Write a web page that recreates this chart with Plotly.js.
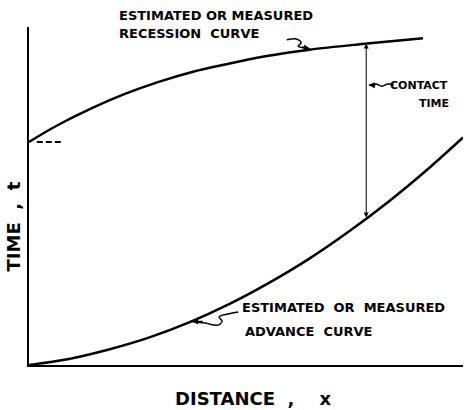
<!DOCTYPE html>
<html>
<head>
<meta charset="utf-8">
<script src="https://cdn.plot.ly/plotly-3.0.1.min.js"></script>
<style>html,body{margin:0;padding:0;background:#fff;}#chart{width:466px;height:410px;}</style>
</head>
<body>
<div id="chart"></div>
<script>
// Curve values (distance x, time t), arbitrary units 0-100
var recessionX = [0, 6.68, 14.5, 22.1, 29.7, 37.6, 45.2, 54.8, 64.7, 77.9, 90.8];
var recessionT = [66.0, 71.0, 76.0, 80.2, 83.7, 86.7, 88.9, 91.4, 93.3, 95.1, 96.7];
var advanceX = [0, 9.2, 18.4, 27.6, 36.9, 46.1, 55.3, 64.5, 73.7, 82.9, 92.2, 100];
var advanceT = [0, 1.8, 4.6, 8.1, 12.6, 18.0, 24.3, 31.4, 39.5, 48.4, 58.3, 67.3];

// dashed start marker on the time axis
var startDashX = [1.8, 7.8];
var startDashT = [66.0, 66.0];

// contact time at this distance
var contactX = 77.7;
var contactTop = 95.1;
var contactBottom = 43.2;

// leader squiggles
var recLeaderX = [59.4, 61.8, 62.7, 62.0, 64.7];
var recLeaderT = [96.2, 96.4, 95.3, 94.4, 93.6];
var ctLeaderX = [78.3, 79.95, 81.3, 82.7, 84.1];
var ctLeaderT = [82.8, 83.1, 82.5, 83.1, 82.8];
var advLeaderX = [37.6, 40.6, 43.5, 44.5, 43.8, 45.9, 48.2];
var advLeaderT = [12.9, 12.4, 11.8, 13.0, 14.2, 15.1, 15.7];

var labelFont = {family: 'DejaVu Sans', size: 13, color: '#000', weight: 'bold'};
var smallFont = {family: 'DejaVu Sans', size: 11, color: '#000', weight: 'bold'};
var titleFont = {family: 'DejaVu Sans', size: 18, color: '#000', weight: 'bold'};

var traces = [
  {x: recessionX, y: recessionT, mode: 'lines', line: {color: '#000', width: 2.5, shape: 'spline'}, hoverinfo: 'skip'},
  {x: advanceX, y: advanceT, mode: 'lines', line: {color: '#000', width: 2.5, shape: 'spline'}, hoverinfo: 'skip'},
  {x: startDashX, y: startDashT, mode: 'lines', line: {color: '#000', width: 2, dash: '6px,3px'}, hoverinfo: 'skip'},
  {x: recLeaderX, y: recLeaderT, mode: 'lines', line: {color: '#000', width: 1.5, shape: 'spline'}, hoverinfo: 'skip'},
  {x: ctLeaderX, y: ctLeaderT, mode: 'lines', line: {color: '#000', width: 1.5, shape: 'spline'}, hoverinfo: 'skip'},
  {x: advLeaderX, y: advLeaderT, mode: 'lines', line: {color: '#000', width: 1.5, shape: 'spline'}, hoverinfo: 'skip'}
];

var n = recLeaderX.length - 1;
var layout = {
  width: 466, height: 410,
  margin: {l: 29, r: 3, t: 27, b: 45},
  paper_bgcolor: '#fff', plot_bgcolor: '#fff',
  showlegend: false,
  xaxis: {range: [0, 100], showline: true, linecolor: '#000', linewidth: 2, showgrid: false, zeroline: false, showticklabels: false, ticks: '', fixedrange: true},
  yaxis: {range: [0, 100], showline: true, linecolor: '#000', linewidth: 2, showgrid: false, zeroline: false, showticklabels: false, ticks: '', fixedrange: true},
  annotations: [
    {x: 0.203, y: 1.0355, xref: 'paper', yref: 'paper', text: 'ESTIMATED OR MEASURED', showarrow: false, xanchor: 'left', yanchor: 'middle', font: labelFont},
    {x: 0.203, y: 0.982, xref: 'paper', yref: 'paper', text: 'RECESSION\u00a0 CURVE', showarrow: false, xanchor: 'left', yanchor: 'middle', font: labelFont},
    {x: 48.6, y: 16.9, xref: 'x', yref: 'y', text: 'ESTIMATED\u00a0 OR\u00a0 MEASURED', showarrow: false, xanchor: 'left', yanchor: 'middle', font: labelFont},
    {x: 49.3, y: 9.8, xref: 'x', yref: 'y', text: 'ADVANCE\u00a0 CURVE', showarrow: false, xanchor: 'left', yanchor: 'middle', font: labelFont},
    {x: 97.0, y: 82.8, xref: 'x', yref: 'y', text: 'CONTACT', showarrow: false, xanchor: 'right', yanchor: 'middle', font: smallFont},
    {x: 97.2, y: 77.5, xref: 'x', yref: 'y', text: 'TIME', showarrow: false, xanchor: 'right', yanchor: 'middle', font: smallFont},
    // contact time double arrow
    {x: contactX, y: contactTop, ax: contactX, ay: contactBottom, xref: 'x', yref: 'y', axref: 'x', ayref: 'y', text: '', showarrow: true, arrowside: 'end+start', arrowhead: 2, arrowsize: 1, arrowwidth: 1, arrowcolor: '#000'},
    // leader arrowheads
    {x: recLeaderX[n], y: recLeaderT[n], xref: 'x', yref: 'y', ax: -9, ay: -2, text: '', showarrow: true, arrowhead: 2, arrowsize: 0.8, arrowwidth: 1.5, arrowcolor: '#000'},
    {x: ctLeaderX[0], y: ctLeaderT[0], xref: 'x', yref: 'y', ax: 8, ay: 0, text: '', showarrow: true, arrowhead: 2, arrowsize: 0.8, arrowwidth: 1.5, arrowcolor: '#000'},
    {x: advLeaderX[0], y: advLeaderT[0], xref: 'x', yref: 'y', ax: 12, ay: 0, text: '', showarrow: true, arrowhead: 2, arrowsize: 0.8, arrowwidth: 1.5, arrowcolor: '#000'},
    // axis titles
    {x: 0.516, y: -0.098, xref: 'paper', yref: 'paper', text: 'DISTANCE\u00a0 ,\u00a0 \u00a0 x', showarrow: false, xanchor: 'center', yanchor: 'middle', font: titleFont},
    {x: -0.036, y: 0.411, xref: 'paper', yref: 'paper', text: 'TIME\u00a0 ,\u00a0 t', textangle: -90, showarrow: false, xanchor: 'center', yanchor: 'middle', font: titleFont}
  ]
};

Plotly.newPlot('chart', traces, layout, {displayModeBar: false, staticPlot: true});
</script>
</body>
</html>
